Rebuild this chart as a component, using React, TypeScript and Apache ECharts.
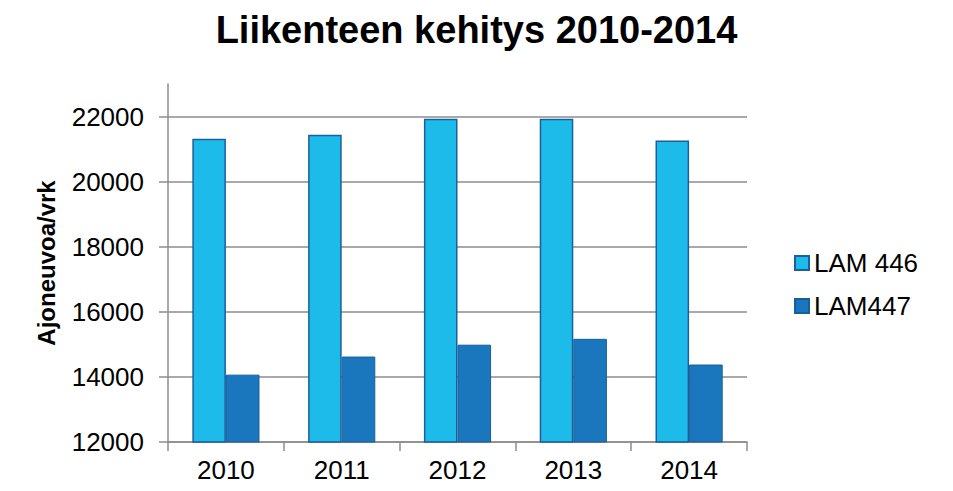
import React, { useEffect, useRef } from "react";
import * as echarts from "echarts";

const categories = ["2010", "2011", "2012", "2013", "2014"];
const lam446 = [21315, 21440, 21930, 21930, 21265];
const lam447 = [14070, 14625, 14990, 15170, 14380];
const tickValues = [12000, 14000, 16000, 18000, 20000, 22000];
const seriesNames = ["LAM 446", "LAM447"];
const titleText = "Liikenteen kehitys 2010-2014";
const yAxisName = "Ajoneuvoa/vrk";

const FONT = "'Liberation Sans', Arial, sans-serif";

export default function App() {
  const ref = useRef<HTMLDivElement>(null);
  useEffect(() => {
    if (!ref.current) return;
    const chart = echarts.init(ref.current, undefined, { renderer: "svg" });
    chart.setOption({
      animation: false,
      backgroundColor: "#ffffff",
      title: {
        text: titleText,
        left: "center",
        top: 6,
        textStyle: { fontFamily: FONT, fontSize: 38, fontWeight: "bold", color: "#000" },
      },
      legend: {
        orient: "vertical",
        left: 789,
        top: 245,
        itemWidth: 14,
        itemHeight: 14,
        itemGap: 17,
        icon: "rect",
        textStyle: { fontFamily: FONT, fontSize: 26, color: "#000" },
        data: seriesNames,
      },
      grid: { left: 168, right: 206, top: 84, bottom: 49, containLabel: false },
      xAxis: {
        type: "category",
        data: categories,
        axisLine: { show: true, lineStyle: { color: "#8c8c8c", width: 1.5 } },
        axisTick: { show: true, alignWithLabel: false, length: 9, lineStyle: { color: "#8c8c8c", width: 1.5 } },
        axisLabel: { fontFamily: FONT, fontSize: 26, color: "#000", margin: 15 },
        splitLine: { show: false },
      },
      yAxis: {
        type: "value",
        min: 12000,
        max: 23000,
        interval: 2000,
        name: yAxisName,
        nameLocation: "middle",
        nameRotate: 90,
        nameGap: 110,
        nameTextStyle: { fontFamily: FONT, fontSize: 24, fontWeight: "bold", color: "#000" },
        axisLine: { show: true, lineStyle: { color: "#8c8c8c", width: 1.5 } },
        axisTick: { show: true, inside: false, length: 9, customValues: tickValues, lineStyle: { color: "#8c8c8c", width: 1.5 } },
        axisLabel: {
          fontFamily: FONT,
          fontSize: 26,
          color: "#000",
          margin: 24,
          customValues: tickValues,
          formatter: (v: number) => String(v),
        },
        splitLine: { show: true, lineStyle: { color: "#8c8c8c", width: 1.5 } },
      },
      series: [
        {
          name: seriesNames[0],
          type: "bar",
          data: lam446,
          barGap: "0%",
          barCategoryGap: "42%",
          itemStyle: { color: "#1cbbe9", borderColor: "#1d5f9c", borderWidth: 1.5 },
        },
        {
          name: seriesNames[1],
          type: "bar",
          data: lam447,
          barGap: "0%",
          barCategoryGap: "42%",
          itemStyle: { color: "#1a77bd", borderColor: "#165f99", borderWidth: 1 },
        },
      ],
    });
    return () => chart.dispose();
  }, []);
  return <div ref={ref} style={{ width: 953, height: 491, position: "absolute", left: 0, top: 0 }} />;
}
